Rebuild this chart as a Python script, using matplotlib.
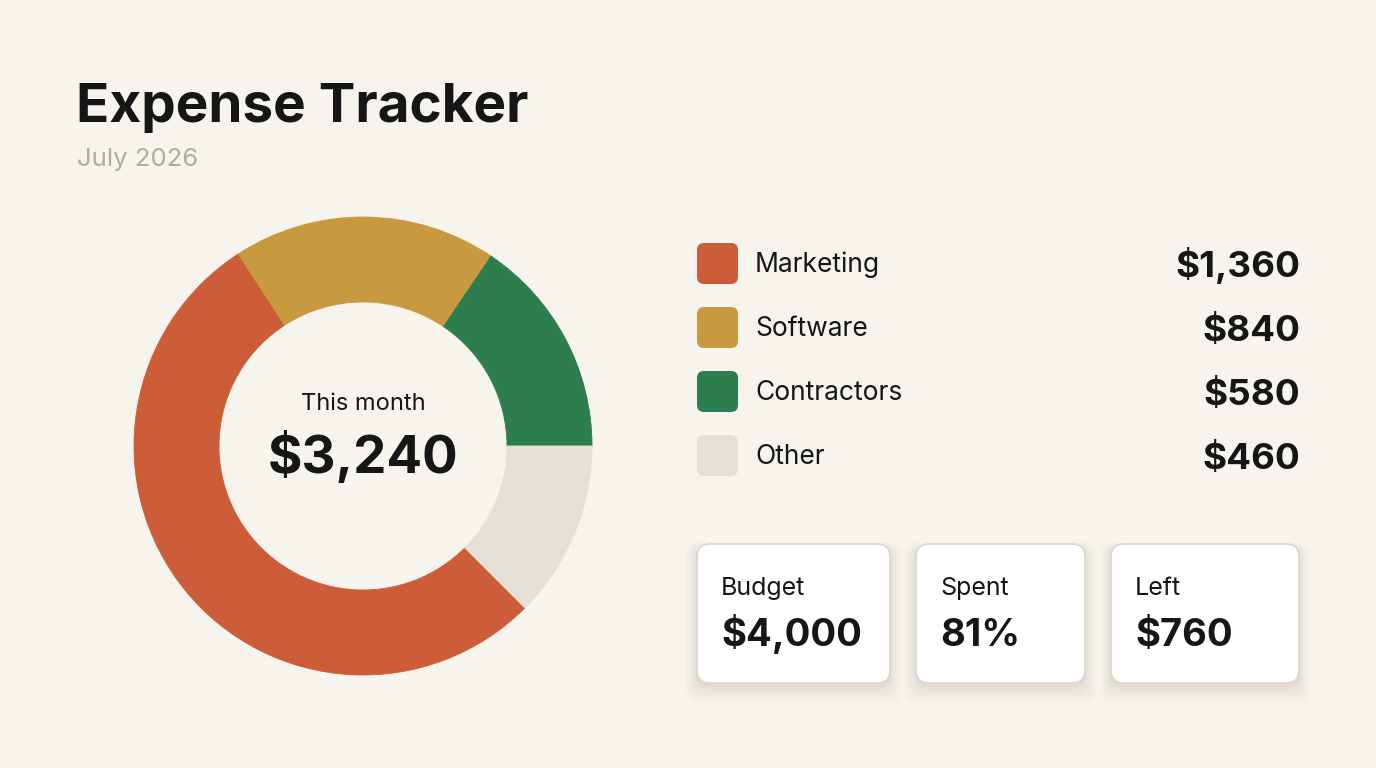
import matplotlib
matplotlib.use("Agg")
import matplotlib.pyplot as plt
from matplotlib.patches import FancyBboxPatch

plt.rcParams['font.family'] = ['Inter', 'DejaVu Sans']

# ---- data ----
title = "Expense Tracker"
subtitle = "July 2026"
categories = ["Marketing", "Software", "Contractors", "Other"]
amounts = [1360, 840, 580, 460]
amount_labels = ["$1,360", "$840", "$580", "$460"]
# wedge sizes as drawn in the reference (degrees)
arc_degrees = [192, 67, 56, 45]
colors = ["#CD5C38", "#C9993F", "#2E7D4F", "#E6E1D8"]
center_caption = "This month"
center_total = "$3,240"
card_titles = ["Budget", "Spent", "Left"]
card_values = ["$4,000", "81%", "$760"]

W, H = 1376, 768
BG = "#F7F4EE"
INK = "#161616"

fig = plt.figure(figsize=(W / 100, H / 100), dpi=100, facecolor=BG)
ax = fig.add_axes([0, 0, 1, 1])
ax.set_facecolor(BG)

def Y(y):
    return H - y

# ---- donut ----
cx, cy, R, r_in = 363, 446, 229, 144
ax.pie(arc_degrees, colors=colors, startangle=-45, counterclock=False,
       center=(cx, Y(cy)), radius=R,
       wedgeprops=dict(width=R - r_in, linewidth=0.6, antialiased=True))
for w, c in zip(ax.patches, colors):
    w.set_edgecolor(c)

ax.text(cx, Y(410), center_caption, ha="center", va="baseline",
        fontsize=17, color=INK)
ax.text(cx, Y(473), center_total, ha="center", va="baseline",
        fontsize=38, fontweight="bold", color=INK)

# ---- title ----
ax.text(76, Y(122), title, ha="left", va="baseline", fontsize=39.5,
        fontweight="bold", color=INK)
ax.text(77, Y(166), subtitle, ha="left", va="baseline", fontsize=18.5,
        color="#B3AB9D")

# ---- legend ----
row0, step = 243, 64
for i, (cat, lab, col) in enumerate(zip(categories, amount_labels, colors)):
    top = row0 + i * step
    sw = FancyBboxPatch((697 + 7, Y(top + 41) + 7), 41 - 14, 41 - 14,
                        boxstyle="round,pad=7", facecolor=col, edgecolor="none")
    ax.add_patch(sw)
    ax.text(755, Y(top + 29), cat, ha="left", va="baseline", fontsize=19,
            color=INK)
    ax.text(1300, Y(top + 34), lab, ha="right", va="baseline", fontsize=26.5,
            fontweight="bold", color=INK)

# ---- cards ----
cards_x = [(697, 890), (916, 1085), (1111, 1299)]
ctop, cbot = 544, 683
rad = 13
shadow_layers = [(10, 12, 0.008), (9, 10, 0.011), (8, 8, 0.014), (7, 6, 0.017),
                 (5, 4, 0.020), (4, 2, 0.024), (2, 1, 0.028)]
for (x0, x1), t, v in zip(cards_x, card_titles, card_values):
    for off, grow, a in shadow_layers:
        sh = FancyBboxPatch((x0 + rad - grow, Y(cbot + off) + rad - grow),
                            (x1 - x0) - 2 * rad + 2 * grow,
                            (cbot - ctop) - 2 * rad + 2 * grow,
                            boxstyle=f"round,pad={rad}", facecolor="#4A3A20",
                            edgecolor="none", alpha=a)
        ax.add_patch(sh)
    card = FancyBboxPatch((x0 + rad, Y(cbot) + rad), (x1 - x0) - 2 * rad,
                          (cbot - ctop) - 2 * rad, boxstyle=f"round,pad={rad}",
                          facecolor="white", edgecolor="#DED7CA", linewidth=1.2)
    ax.add_patch(card)
    ax.text(x0 + 24, Y(595), t, ha="left", va="baseline", fontsize=18,
            color=INK)
    ax.text(x0 + 24, Y(646), v, ha="left", va="baseline", fontsize=27.5,
            fontweight="bold", color=INK)

ax.set_xlim(0, W)
ax.set_ylim(0, H)
ax.set_aspect("auto")
ax.axis("off")

fig.savefig("out.png", dpi=100, facecolor=BG)
